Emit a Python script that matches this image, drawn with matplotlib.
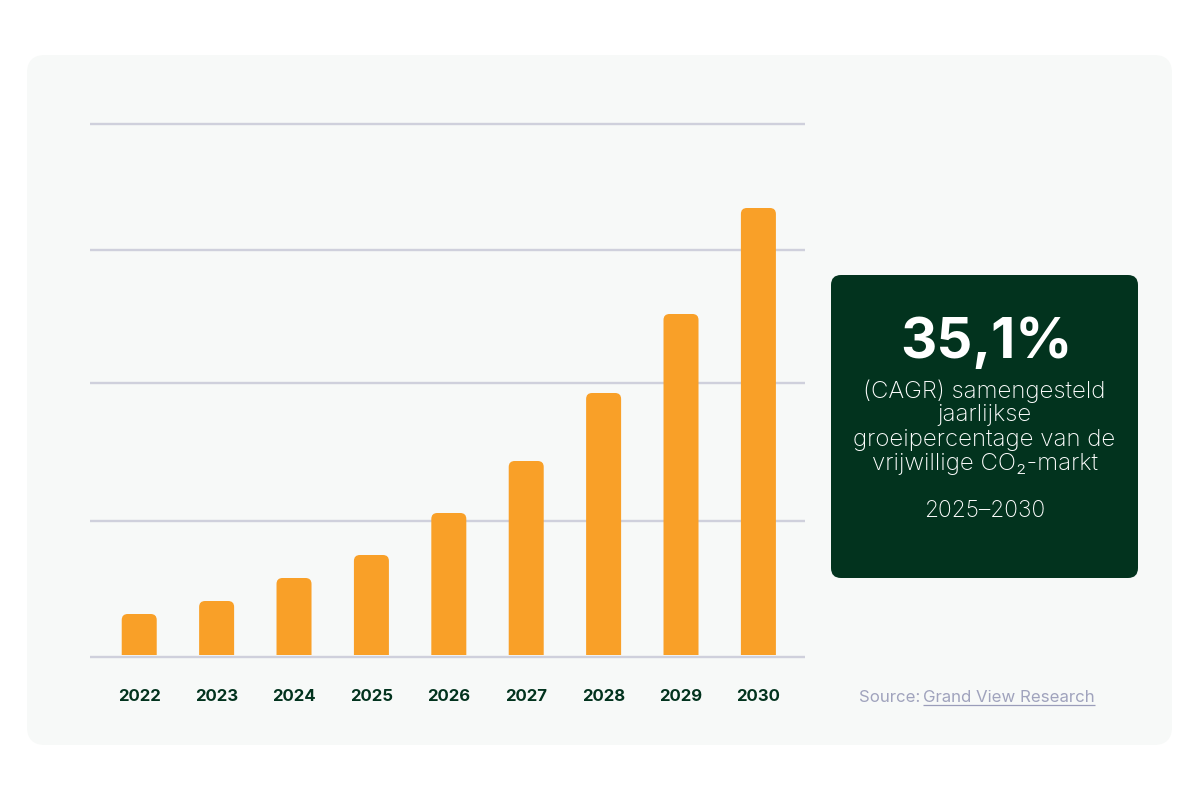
import matplotlib
matplotlib.use("Agg")
import matplotlib.pyplot as plt
from matplotlib.patches import FancyBboxPatch, PathPatch
from matplotlib.path import Path

years = ["2022", "2023", "2024", "2025", "2026", "2027", "2028", "2029", "2030"]
market_values = [43, 56, 79, 102, 144, 196, 264, 343, 449]
grid_levels = [0, 136, 274, 407, 533]
headline = "35,1%"
body_lines = ["(CAGR) samengesteld", "jaarlijkse", "groeipercentage van de", "vrijwillige CO₂-markt"]
period = "2025–2030"
source_prefix = "Source:"
source_link = "Grand View Research"

GREEN = "#02331e"
ORANGE = "#f9a028"
GRID = "#cfd0dc"
PANEL = "#f7f9f8"
MUTED = "#a0a3bd"
FONT = ["Inter", "DejaVu Sans"]
plt.rcParams["font.family"] = FONT

W, H = 1200, 800
fig = plt.figure(figsize=(12, 8), dpi=100, facecolor="white")

bg = fig.add_axes([0, 0, 1, 1], zorder=0)
bg.set_xlim(0, W); bg.set_ylim(H, 0); bg.axis("off")
bg.add_patch(FancyBboxPatch((45, 73), 1109, 654, boxstyle="round,pad=18,rounding_size=18",
                            fc=PANEL, ec="none"))

# chart axes: one y unit = one pixel, one x unit = one category
ax = fig.add_axes([90 / W, (H - 657) / H, 715 / W, 557 / H], zorder=1)
ax.patch.set_visible(False)
ax.set_xlim(-0.636, 8.602)
ax.set_ylim(0, 557)
for s in ax.spines.values():
    s.set_visible(False)
ax.set_yticks(grid_levels)
ax.set_yticklabels([])
ax.yaxis.grid(True, color=GRID, lw=1.7, zorder=1, solid_capstyle="butt")
for gl in ax.yaxis.get_gridlines():
    gl.set_clip_on(False)
ax.set_axisbelow(True)
ax.tick_params(axis="both", length=0)
ax.set_xticks(range(len(years)))
ax.set_xticklabels(years, fontsize=12, fontweight="bold", color=GREEN, family=FONT)
ax.tick_params(axis="x", pad=23)

bars = ax.bar(range(len(years)), [v - 2 for v in market_values], bottom=2,
              width=35 / 77.4, color="none", edgecolor="none")
for rect in bars:
    x0, y0 = rect.get_x(), rect.get_y()
    x1, y1 = x0 + rect.get_width(), y0 + rect.get_height()
    rx = 6 / 77.4
    ry = 6
    verts = [(x0, y0), (x0, y1 - ry), (x0, y1), (x0 + rx, y1), (x1 - rx, y1),
             (x1, y1), (x1, y1 - ry), (x1, y0), (x0, y0)]
    codes = [Path.MOVETO, Path.LINETO, Path.CURVE3, Path.CURVE3, Path.LINETO,
             Path.CURVE3, Path.CURVE3, Path.LINETO, Path.CLOSEPOLY]
    ax.add_patch(PathPatch(Path(verts, codes), fc=ORANGE, ec="none", zorder=3))

fg = fig.add_axes([0, 0, 1, 1], zorder=2)
fg.set_xlim(0, W); fg.set_ylim(H, 0); fg.axis("off")
fg.add_patch(FancyBboxPatch((841, 285), 287, 283, boxstyle="round,pad=10,rounding_size=10",
                            fc=GREEN, ec="none"))
cx = 984.5
fg.text(cx + 2, 343, headline, color="white", fontsize=40.5, fontweight="bold",
        ha="center", va="center")
for y, line in zip([391, 415, 440, 464], body_lines):
    fg.text(cx, y, line, color="white", fontsize=17.3, fontweight="light", ha="center", va="center")
fg.text(cx, 511, period, color="white", fontsize=16.4, fontweight="light", ha="center", va="center")

fg.text(859, 697, source_prefix, color=MUTED, fontsize=12.1, ha="left", va="center")
link = fg.text(923, 697, source_link, color=MUTED, fontsize=12.1, ha="left", va="center")
fig.canvas.draw()
bb = link.get_window_extent(fig.canvas.get_renderer())
fg.plot([bb.x0, bb.x1], [704.5, 704.5], color="#9a9dba", lw=0.9, solid_capstyle="butt")

fig.savefig("out.png", dpi=100)
